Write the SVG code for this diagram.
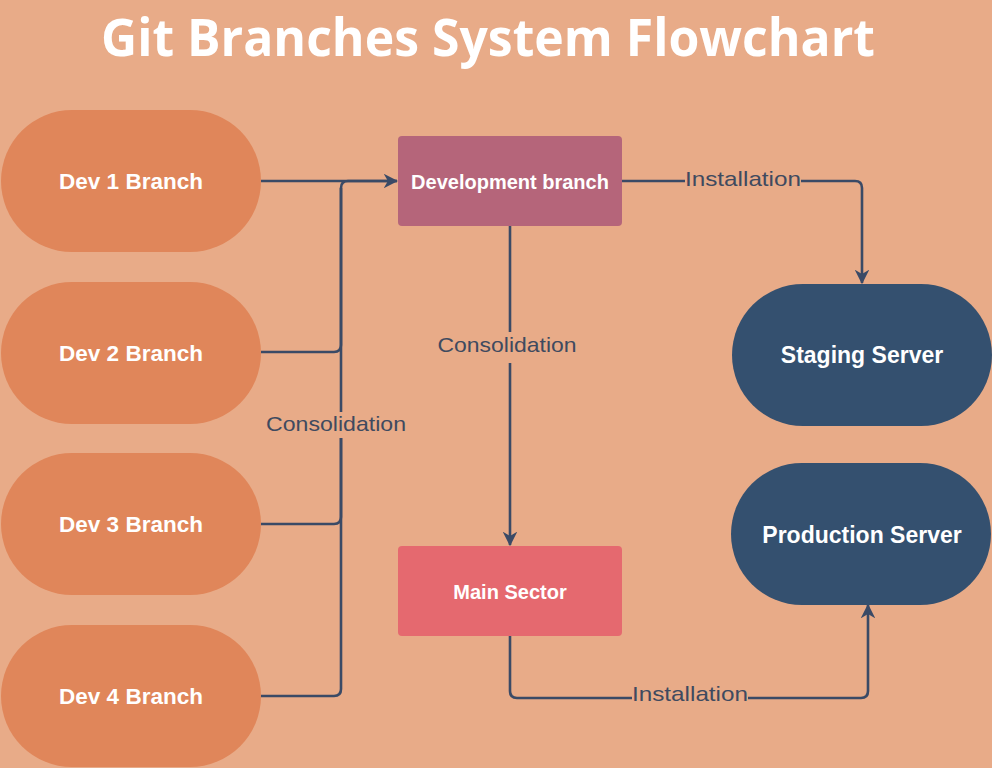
<svg xmlns="http://www.w3.org/2000/svg" width="992" height="768" viewBox="0 0 992 768">
<style>
.bg{fill:#E8AB88}
.dev{fill:#E0865A}
.srv{fill:#34506F}
.node-t{font-family:"Liberation Sans",Arial,sans-serif;font-weight:bold;fill:#FFFFFF;text-anchor:middle}
.lbl{font-family:"Liberation Sans",Arial,sans-serif;font-size:21px;fill:#3F4A5F;text-anchor:middle}
.conn{fill:none;stroke:#3A4A66;stroke-width:2.6;stroke-linejoin:round}
.title{font-family:"Open Sans","Noto Sans",sans-serif;font-weight:bold;font-size:52px;fill:#FFFFFF;text-anchor:middle}
</style>
<defs>
<marker id="arr" viewBox="0 0 12 12" refX="11" refY="6" markerWidth="5.6" markerHeight="5.6" orient="auto" markerUnits="strokeWidth">
<path d="M0,0 L12,6 L0,12 L3.5,6 z" fill="#3A4A66"/>
</marker>
</defs>
<rect class="bg" x="0" y="0" width="992" height="768"/>
<text class="title" x="488" y="56" textLength="774" lengthAdjust="spacingAndGlyphs">Git Branches System Flowchart</text>

<g id="connectors">
<path class="conn" d="M261,181 H397" marker-end="url(#arr)"/>
<path class="conn" d="M261,352 H334 Q341,352 341,345 V188 Q341,181 348,181 H397"/>
<path class="conn" d="M261,524 H334 Q341,524 341,517 V438"/>
<path class="conn" d="M261,696 H334 Q341,696 341,689 V438"/>
<path class="conn" d="M341,412 V188"/>
<text class="lbl" x="336" y="431" textLength="140" lengthAdjust="spacingAndGlyphs">Consolidation</text>

<path class="conn" d="M622,181 H685"/>
<path class="conn" d="M801,181 H855 Q862,181 862,188 V283" marker-end="url(#arr)"/>
<text class="lbl" x="743" y="186" textLength="116" lengthAdjust="spacingAndGlyphs">Installation</text>

<path class="conn" d="M510,226 V332"/>
<path class="conn" d="M510,363 V545" marker-end="url(#arr)"/>
<text class="lbl" x="507" y="352" textLength="139" lengthAdjust="spacingAndGlyphs">Consolidation</text>

<path class="conn" d="M510,636 V691 Q510,698 517,698 H632"/>
<path class="conn" d="M748,698 H861 Q868,698 868,691 V605" marker-end="url(#arr)"/>
<text class="lbl" x="690" y="701" textLength="116" lengthAdjust="spacingAndGlyphs">Installation</text>
</g>

<g id="dev1"><rect class="dev" x="1" y="110" width="260" height="142" rx="71"/><text class="node-t" x="131" y="189" font-size="22.5">Dev 1 Branch</text></g>
<g id="dev2"><rect class="dev" x="1" y="282" width="260" height="142" rx="71"/><text class="node-t" x="131" y="361" font-size="22.5">Dev 2 Branch</text></g>
<g id="dev3"><rect class="dev" x="1" y="453" width="260" height="142" rx="71"/><text class="node-t" x="131" y="532" font-size="22.5">Dev 3 Branch</text></g>
<g id="dev4"><rect class="dev" x="1" y="625" width="260" height="142" rx="71"/><text class="node-t" x="131" y="704" font-size="22.5">Dev 4 Branch</text></g>

<g id="development"><rect x="398" y="136" width="224" height="90" rx="4" fill="#B5657A"/><text class="node-t" x="510" y="189" font-size="20">Development branch</text></g>
<g id="main"><rect x="398" y="546" width="224" height="90" rx="4" fill="#E5696F"/><text class="node-t" x="510" y="599" font-size="20">Main Sector</text></g>

<g id="staging"><rect class="srv" x="732" y="284" width="260" height="142" rx="71"/><text class="node-t" x="862" y="363" font-size="23">Staging Server</text></g>
<g id="production"><rect class="srv" x="731" y="463" width="260" height="142" rx="71"/><text class="node-t" x="862" y="543" font-size="23">Production Server</text></g>
</svg>
